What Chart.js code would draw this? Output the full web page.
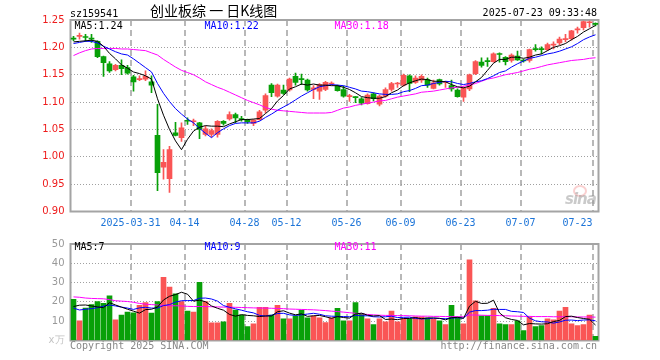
<!DOCTYPE html>
<html>
<head>
<meta charset="utf-8">
<script src="https://cdn.jsdelivr.net/npm/chart.js@4.4.1/dist/chart.umd.min.js"></script>
<style>
  body { margin: 0; background: #fff; }
  #wrap { position: relative; width: 660px; height: 360px; overflow: hidden; background: #fff; }
  canvas { position: absolute; left: 0; }
  .t { position: absolute; white-space: nowrap; font: 10px/12px "DejaVu Sans Mono", monospace; color: #000; }
</style>
</head>
<body>
<div id="wrap">
  <canvas id="kline" width="660" height="232" style="top:0"></canvas>
  <canvas id="vol" width="660" height="128" style="top:232px"></canvas>

  <div class="t" style="left:70px;top:7.5px">sz159541</div>
  <div class="t" style="left:150px;top:2px;font:14px/16px 'Noto Sans CJK SC',sans-serif">创业板综 一 日K线图</div>
  <div class="t" style="right:63px;top:7px">2025-07-23 09:33:48</div>

  <div class="t" style="left:74.5px;top:20px">MA5:1.24</div>
  <div class="t" style="left:204.5px;top:20px;color:#0000ff">MA10:1.22</div>
  <div class="t" style="left:334.5px;top:20px;color:#ff00ff">MA30:1.18</div>

  <div class="t" style="left:74.5px;top:241px">MA5:7</div>
  <div class="t" style="left:204.5px;top:241px;color:#0000ff">MA10:9</div>
  <div class="t" style="left:334.5px;top:241px;color:#ff00ff">MA30:11</div>

  <div style="position:absolute;left:573px;top:185px;width:10px;height:8px;border:2px solid rgba(240,120,120,0.35);border-radius:50%"></div>
  <div class="t" style="left:565px;top:191px;font:italic bold 15px/16px 'DejaVu Sans',sans-serif;letter-spacing:-1px;color:rgba(150,150,150,0.5)">sina</div>

  <div class="t" style="left:70px;top:339.5px;color:#888">Copyright 2025 SINA.COM</div>
  <div class="t" style="right:63px;top:339.5px;color:#888">http://finance.sina.com.cn</div>
</div>

<script>
// trading days shown (categories)
const dates = [
  '2025-03-17','2025-03-18','2025-03-19','2025-03-20','2025-03-21','2025-03-24','2025-03-25','2025-03-26','2025-03-27','2025-03-28',
  '2025-03-31','2025-04-01','2025-04-02','2025-04-03','2025-04-07','2025-04-08','2025-04-09','2025-04-10','2025-04-11','2025-04-14',
  '2025-04-15','2025-04-16','2025-04-17','2025-04-18','2025-04-21','2025-04-22','2025-04-23','2025-04-24','2025-04-25','2025-04-28',
  '2025-04-29','2025-04-30','2025-05-06','2025-05-07','2025-05-08','2025-05-09','2025-05-12','2025-05-13','2025-05-14','2025-05-15',
  '2025-05-16','2025-05-19','2025-05-20','2025-05-21','2025-05-22','2025-05-23','2025-05-26','2025-05-27','2025-05-28','2025-05-29',
  '2025-05-30','2025-06-03','2025-06-04','2025-06-05','2025-06-06','2025-06-09','2025-06-10','2025-06-11','2025-06-12','2025-06-13',
  '2025-06-16','2025-06-17','2025-06-18','2025-06-19','2025-06-20','2025-06-23','2025-06-24','2025-06-25','2025-06-26','2025-06-27',
  '2025-06-30','2025-07-01','2025-07-02','2025-07-03','2025-07-04','2025-07-07','2025-07-08','2025-07-09','2025-07-10','2025-07-11',
  '2025-07-14','2025-07-15','2025-07-16','2025-07-17','2025-07-18','2025-07-21','2025-07-22','2025-07-23'
];

// dates that get a label and a dashed grid line
const tickDates = ['2025-03-31','2025-04-14','2025-04-28','2025-05-12','2025-05-26','2025-06-09','2025-06-23','2025-07-07','2025-07-23'];

const opens = [
  1.217,1.220,1.219,1.217,1.211,1.183,1.170,1.159,1.167,1.163,
  1.146,1.141,1.142,1.137,1.039,0.981,0.960,1.044,1.035,1.066,
  1.064,1.062,1.041,1.041,1.041,1.065,1.069,1.077,1.069,1.068,
  1.061,1.068,1.085,1.131,1.111,1.122,1.122,1.147,1.142,1.140,
  1.123,1.120,1.123,1.133,1.129,1.123,1.110,1.109,1.106,1.097,
  1.115,1.096,1.111,1.123,1.133,1.131,1.148,1.136,1.140,1.141,
  1.125,1.141,1.136,1.130,1.122,1.109,1.124,1.152,1.173,1.175,
  1.174,1.188,1.182,1.176,1.184,1.176,1.176,1.197,1.197,1.196,
  1.204,1.208,1.214,1.216,1.232,1.236,1.245,1.243
];
const highs = [
  1.220,1.226,1.224,1.224,1.212,1.184,1.174,1.169,1.177,1.167,
  1.149,1.148,1.157,1.148,1.096,1.013,1.019,1.063,1.062,1.071,
  1.069,1.063,1.056,1.051,1.066,1.066,1.082,1.080,1.074,1.069,
  1.068,1.085,1.115,1.134,1.133,1.131,1.144,1.153,1.151,1.142,
  1.130,1.134,1.138,1.137,1.131,1.129,1.114,1.110,1.108,1.115,
  1.117,1.113,1.126,1.136,1.136,1.151,1.150,1.148,1.150,1.144,
  1.140,1.142,1.138,1.140,1.124,1.128,1.151,1.176,1.181,1.181,
  1.190,1.190,1.183,1.188,1.193,1.178,1.197,1.205,1.201,1.208,
  1.210,1.219,1.224,1.231,1.237,1.248,1.248,1.245
];
const lows = [
  1.212,1.215,1.211,1.209,1.181,1.147,1.154,1.157,1.150,1.151,
  1.120,1.139,1.139,1.117,0.938,0.959,0.935,1.038,1.028,1.059,
  1.057,1.033,1.038,1.036,1.036,1.058,1.067,1.062,1.065,1.061,
  1.057,1.067,1.080,1.110,1.109,1.114,1.120,1.131,1.132,1.120,
  1.106,1.105,1.121,1.131,1.120,1.109,1.101,1.099,1.095,1.096,
  1.102,1.093,1.109,1.120,1.127,1.129,1.119,1.134,1.136,1.127,
  1.124,1.131,1.127,1.120,1.109,1.101,1.121,1.150,1.164,1.165,
  1.173,1.173,1.168,1.173,1.176,1.173,1.173,1.193,1.188,1.194,
  1.197,1.205,1.210,1.213,1.226,1.232,1.237,1.239
];
const closes = [
  1.215,1.222,1.218,1.215,1.183,1.172,1.157,1.167,1.161,1.153,
  1.137,1.142,1.147,1.131,0.971,0.990,1.013,1.039,1.053,1.065,
  1.065,1.050,1.051,1.048,1.065,1.061,1.077,1.071,1.068,1.064,
  1.067,1.082,1.112,1.117,1.131,1.116,1.142,1.136,1.141,1.122,
  1.126,1.132,1.136,1.134,1.121,1.111,1.111,1.108,1.098,1.113,
  1.106,1.111,1.123,1.134,1.134,1.149,1.134,1.144,1.147,1.131,
  1.135,1.133,1.137,1.124,1.110,1.125,1.150,1.174,1.167,1.174,
  1.188,1.187,1.174,1.186,1.177,1.175,1.196,1.196,1.196,1.205,
  1.205,1.215,1.215,1.230,1.233,1.247,1.246,1.242
];

const ma5 = [
  1.210,1.211,1.212,1.213,1.211,1.202,1.189,1.179,1.168,1.162,
  1.155,1.152,1.148,1.142,1.106,1.076,1.050,1.029,1.013,1.032,
  1.047,1.054,1.057,1.056,1.056,1.055,1.060,1.064,1.068,1.068,
  1.069,1.070,1.079,1.088,1.102,1.112,1.124,1.128,1.133,1.131,
  1.133,1.131,1.131,1.130,1.130,1.127,1.123,1.117,1.110,1.108,
  1.107,1.107,1.110,1.117,1.122,1.130,1.135,1.139,1.142,1.141,
  1.138,1.138,1.137,1.132,1.128,1.126,1.129,1.137,1.145,1.158,
  1.171,1.178,1.178,1.182,1.182,1.180,1.182,1.186,1.188,1.194,
  1.200,1.203,1.207,1.214,1.220,1.228,1.234,1.240
];
const ma10 = [
  1.207,1.209,1.211,1.211,1.208,1.202,1.197,1.192,1.188,1.186,
  1.179,1.171,1.163,1.155,1.134,1.116,1.101,1.088,1.078,1.069,
  1.062,1.052,1.043,1.035,1.044,1.051,1.057,1.061,1.062,1.062,
  1.062,1.065,1.072,1.078,1.085,1.091,1.097,1.104,1.111,1.117,
  1.123,1.128,1.130,1.132,1.131,1.130,1.127,1.124,1.120,1.119,
  1.117,1.115,1.114,1.114,1.115,1.119,1.121,1.125,1.130,1.131,
  1.134,1.136,1.138,1.137,1.134,1.132,1.134,1.137,1.139,1.143,
  1.148,1.154,1.157,1.164,1.170,1.175,1.180,1.182,1.185,1.188,
  1.190,1.193,1.197,1.201,1.207,1.214,1.219,1.223
];
const ma30 = [
  1.185,1.190,1.194,1.197,1.198,1.198,1.198,1.198,1.197,1.197,
  1.196,1.195,1.194,1.190,1.186,1.178,1.171,1.164,1.158,1.154,
  1.150,1.144,1.137,1.132,1.127,1.123,1.118,1.113,1.108,1.103,
  1.099,1.095,1.090,1.087,1.085,1.084,1.083,1.082,1.081,1.080,
  1.080,1.080,1.080,1.081,1.085,1.089,1.091,1.094,1.096,1.098,
  1.100,1.102,1.103,1.106,1.109,1.111,1.113,1.115,1.118,1.119,
  1.120,1.122,1.124,1.126,1.127,1.129,1.131,1.134,1.138,1.142,
  1.144,1.147,1.150,1.152,1.154,1.157,1.160,1.162,1.165,1.168,
  1.170,1.172,1.174,1.176,1.177,1.178,1.180,1.181
];

// volume, 万
const volumes = [
  21.3,10.2,16.8,18.6,20.2,19.2,23.2,10.7,13.2,14.7,
  14.3,18.2,19.7,14.2,20.2,32.7,27.7,24.2,20.2,15.3,
  14.7,30.2,20.2,9.2,9.2,9.7,19.2,15.8,13.2,7.2,
  8.7,17.2,17.2,13.2,18.2,11.2,11.2,12.7,15.8,11.8,
  12.7,11.8,9.3,11.7,16.7,10.2,10.2,19.7,14.0,11.2,
  8.2,11.2,9.7,15.2,9.7,11.2,11.2,12.3,12.3,11.6,
  11.0,10.2,8.2,18.2,12.2,8.7,41.8,20.6,12.8,12.8,
  16.7,8.7,8.2,8.2,10.2,5.2,12.2,7.2,7.7,11.2,
  10.7,15.2,17.2,8.7,7.7,8.2,13.2,2.2
];
const volMa5 = [
  17.6,18.3,18.4,17.9,17.4,17.0,19.6,18.4,17.3,16.2,
  15.2,14.2,16.0,16.2,17.3,21.0,22.9,23.8,25.0,24.0,
  20.4,20.9,20.1,17.9,16.7,15.7,13.5,12.6,13.4,13.0,
  12.8,12.4,12.7,12.7,14.9,15.4,14.2,13.3,13.8,12.5,
  12.8,13.0,12.3,11.5,12.4,11.9,11.6,13.7,14.2,13.1,
  12.7,12.9,10.9,11.1,10.8,11.4,11.4,11.9,11.3,11.7,
  11.7,11.5,10.7,11.8,12.0,11.5,17.8,20.3,19.2,19.3,
  20.9,14.3,11.8,10.9,10.4,8.1,8.8,8.6,8.5,8.7,
  9.8,10.4,12.4,12.6,11.9,11.4,11.0,8.0
];
const volMa10 = [
  16.8,15.8,16.2,16.5,17.0,17.8,18.4,17.9,17.3,16.8,
  16.1,16.9,17.2,16.8,16.8,18.1,18.6,19.9,20.6,20.7,
  20.7,21.9,22.0,21.5,20.4,18.1,17.2,16.4,15.7,14.9,
  14.3,13.0,12.7,13.1,14.0,14.1,13.3,13.0,13.3,13.7,
  14.1,13.6,12.8,12.6,12.5,12.4,12.3,13.0,12.8,12.8,
  12.3,12.2,12.3,12.6,11.9,12.0,12.1,11.4,11.2,11.3,
  11.5,11.4,11.3,11.6,11.8,11.6,14.7,15.5,15.5,15.7,
  16.2,16.1,16.1,15.1,14.9,14.5,11.6,10.2,9.7,9.6,
  9.0,9.6,10.5,10.6,10.3,10.6,10.7,10.2
];
const volMa30 = [
  22.6,22.4,22.0,21.8,21.7,21.6,21.2,20.6,20.4,20.2,
  19.8,19.2,18.8,18.6,18.4,18.2,18.0,18.0,17.9,17.7,
  17.6,17.6,17.6,17.5,17.4,17.3,17.3,17.2,17.1,17.0,
  16.9,16.8,16.8,16.7,16.6,16.5,16.3,16.2,16.1,16.0,
  15.9,15.7,15.5,15.2,15.0,14.7,14.4,14.1,13.8,13.5,
  13.3,13.1,13.0,13.0,12.9,12.9,12.8,12.7,12.6,12.6,
  12.5,12.5,12.4,12.4,12.3,12.3,13.2,13.2,13.1,13.0,
  13.0,12.9,12.8,12.7,12.6,12.5,12.5,12.4,12.4,12.4,
  12.3,12.3,12.3,12.3,12.2,12.2,12.2,12.1
];

const RED = '#fa5555';
const GREEN = '#08a008';
const candleColors = closes.map((c, i) => (c >= opens[i] ? RED : GREEN));
const bodies = closes.map((c, i) => [Math.min(opens[i], c), Math.max(opens[i], c)]);
const wicks = highs.map((h, i) => [lows[i], h]);

const isTickIdx = (i) => i !== undefined && tickDates.includes(dates[i]);

// grey frame round the plot, under the bars
const framePlugin = {
  id: 'frame',
  beforeDatasetsDraw(chart) {
    const { ctx, chartArea: a } = chart;
    ctx.save();
    ctx.strokeStyle = '#a4a4a4';
    ctx.lineWidth = 2;
    ctx.strokeRect(a.left, a.top, a.right - a.left, a.bottom - a.top);
    ctx.restore();
  }
};

const xGrid = {
  offset: true,
  drawTicks: false,
  lineWidth: 2,
  color: (ctx) => (isTickIdx(ctx.index) ? '#b8b8b8' : 'rgba(0,0,0,0)')
};

const maLine = (label, data, color) => ({
  type: 'line', label, data,
  borderColor: color, borderWidth: 1,
  pointRadius: 0, tension: 0, fill: false, order: 0
});

new Chart(document.getElementById('kline'), {
  type: 'bar',
  data: {
    labels: dates,
    datasets: [
      maLine('MA5', ma5, '#000000'),
      maLine('MA10', ma10, '#0000ff'),
      maLine('MA30', ma30, '#ff00ff'),
      {
        label: 'body', data: bodies, backgroundColor: candleColors,
        barThickness: 5, minBarLength: 1, grouped: false, borderWidth: 0, order: 1
      },
      {
        label: 'wick', data: wicks, backgroundColor: candleColors,
        barThickness: 1, grouped: false, borderWidth: 0, order: 2
      }
    ]
  },
  options: {
    responsive: false,
    animation: false,
    events: [],
    layout: { padding: { top: 20, right: 61.5, bottom: 2.5, left: 0.5 } },
    plugins: { legend: { display: false }, tooltip: { enabled: false } },
    scales: {
      x: {
        offset: true,
        grid: xGrid,
        border: { display: false, dash: [6, 4] },
        ticks: {
          autoSkip: false, maxRotation: 0, minRotation: 0, padding: 6, align: 'inner',
          labelOffset: -3,
          color: '#1c74d8',
          font: { family: 'DejaVu Sans Mono', size: 10 },
          callback: (v, i) => {
            if (!isTickIdx(i)) return '';
            return i === dates.indexOf(tickDates[0]) ? dates[i] : dates[i].slice(5);
          }
        },
        afterFit: (s) => { s.height = 18; }
      },
      y: {
        min: 0.9,
        max: 1.25,
        grid: { drawTicks: false, color: '#a0a0a0', lineWidth: 1 },
        border: { display: false, dash: [1, 2] },
        ticks: {
          stepSize: 0.05, padding: 6, color: '#ee1c1c',
          font: { family: 'DejaVu Sans', size: 10 },
          callback: (v) => Number(v).toFixed(2)
        },
        afterFit: (s) => { s.width = 70; }
      }
    }
  },
  plugins: [framePlugin]
});

new Chart(document.getElementById('vol'), {
  type: 'bar',
  data: {
    labels: dates,
    datasets: [
      maLine('MA5', volMa5, '#000000'),
      maLine('MA10', volMa10, '#0000ff'),
      maLine('MA30', volMa30, '#ff00ff'),
      {
        label: 'volume', data: volumes, backgroundColor: candleColors,
        barThickness: 5, borderWidth: 0, order: 1
      }
    ]
  },
  options: {
    responsive: false,
    animation: false,
    events: [],
    layout: { padding: { top: 8, right: 61.5, bottom: 19.5, left: 0.5 } },
    plugins: { legend: { display: false }, tooltip: { enabled: false } },
    scales: {
      x: {
        offset: true,
        grid: xGrid,
        border: { display: false, dash: [6, 4] },
        ticks: { display: false, autoSkip: false },
        afterFit: (s) => { s.height = 0; }
      },
      y: {
        min: 0,
        max: 50,
        grid: { drawTicks: false, color: '#a0a0a0', lineWidth: 1 },
        border: { display: false, dash: [1, 2] },
        ticks: {
          stepSize: 10, padding: 6,
          color: (ctx) => (ctx.tick && ctx.tick.value === 0 ? '#c4c4c4' : '#999999'),
          font: { family: 'DejaVu Sans', size: 10 },
          callback: (v) => (v === 0 ? 'x万' : String(v))
        },
        afterFit: (s) => { s.width = 70; }
      }
    }
  },
  plugins: [framePlugin]
});
</script>
</body>
</html>
